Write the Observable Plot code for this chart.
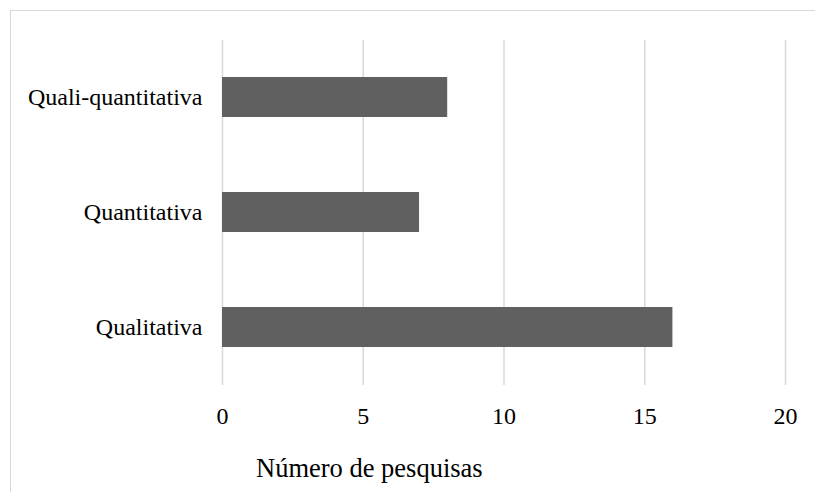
<!DOCTYPE html>
<html>
<head>
<meta charset="utf-8">
<script src="https://cdn.jsdelivr.net/npm/d3@7"></script>
<script src="https://cdn.jsdelivr.net/npm/@observablehq/plot@0.6"></script>
<style>
  html, body { margin: 0; padding: 0; background: #fff; }
  #wrap { position: relative; width: 815px; height: 492px; overflow: hidden; background: #fff; }
  #frame { position: absolute; left: 10px; top: 10px; width: 900px; height: 600px; border-left: 1px solid #d9d9d9; border-top: 1px solid #d9d9d9; box-sizing: border-box; }
  #chart { position: absolute; left: 0; top: 0; }
  #title { position: absolute; left: 256px; top: 453px; font-family: "Liberation Serif", "Times New Roman", serif; font-size: 26.5px; color: #000; line-height: 30px; white-space: nowrap; }
</style>
</head>
<body>
<div id="wrap">
  <div id="frame"></div>
  <div id="chart"></div>
  <div id="title">Número de pesquisas</div>
</div>
<script>
const categories = ["Quali-quantitativa", "Quantitativa", "Qualitativa"];
const values = [8, 7, 16];
const xTicks = [0, 5, 10, 15, 20];

const data = categories.map((c, i) => ({category: c, value: values[i]}));

const chart = Plot.plot({
  width: 815,
  height: 492,
  marginLeft: 222,
  marginRight: 30,
  marginTop: 40,
  marginBottom: 107,
  style: {fontFamily: "'Liberation Serif', 'Times New Roman', serif", fontSize: "24px", background: "transparent", color: "#000"},
  x: {domain: [0, 20]},
  y: {domain: categories, paddingInner: 0.65, paddingOuter: 0.325},
  marks: [
    Plot.gridX(xTicks, {stroke: "#d9d9d9", strokeOpacity: 1, strokeWidth: 1.5}),
    Plot.barX(data, {x: "value", y: "category", fill: "#606060"}),
    Plot.axisX({ticks: xTicks, tickSize: 0, tickPadding: 21, label: null, fontSize: 24}),
    Plot.axisY({tickSize: 0, tickPadding: 20, label: null, fontSize: 24})
  ]
});
document.getElementById("chart").appendChild(chart);
</script>
</body>
</html>
